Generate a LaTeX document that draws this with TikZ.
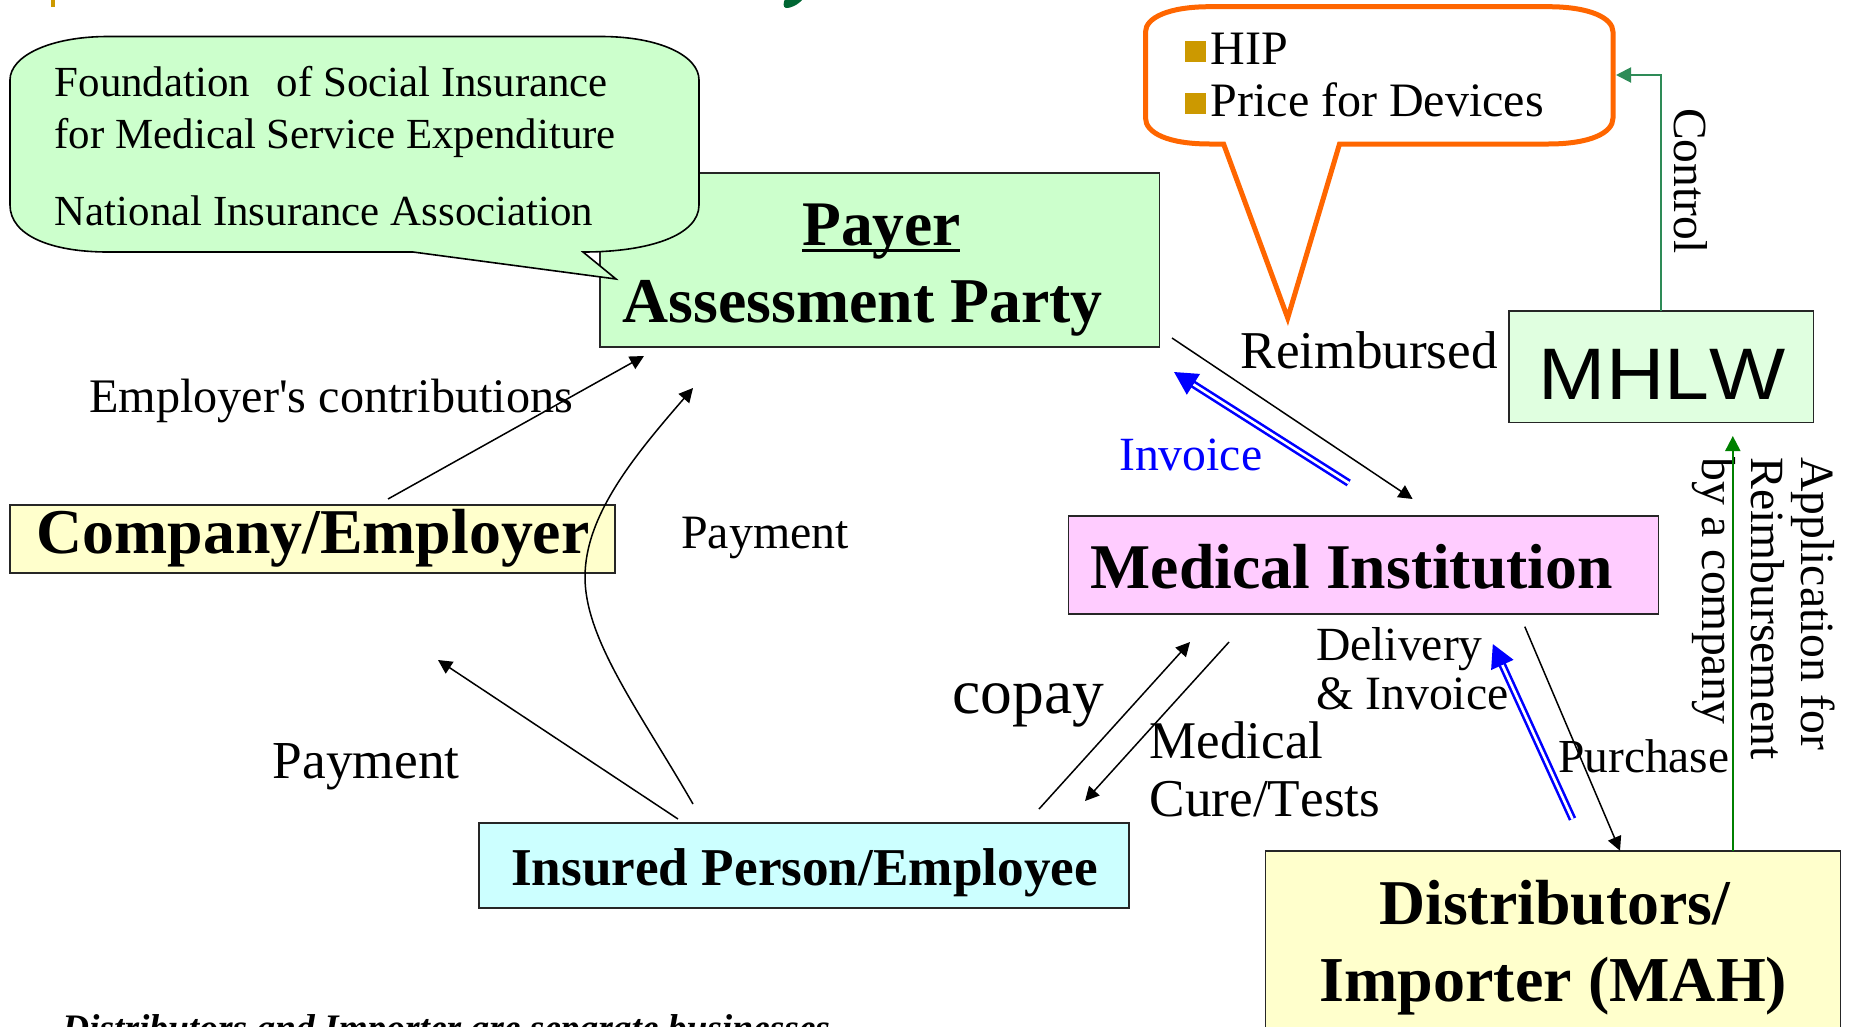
\documentclass[tikz,border=0pt]{standalone}
\usepackage{fontspec}
\setmainfont[Kerning=Off]{Liberation Serif}
\newfontfamily\plainserif[Kerning=Off]{Liberation Serif}
\newfontfamily\arialf[Kerning=Off]{Liberation Sans}
\usetikzlibrary{arrows.meta}
\newcommand{\fs}[1]{\fontsize{#1}{#1}\selectfont}
\definecolor{paygreen}{HTML}{CCFFCC}
\definecolor{mhlwgreen}{HTML}{E0FFE0}
\definecolor{medpink}{HTML}{FFCCFF}
\definecolor{softyellow}{HTML}{FFFFCC}
\definecolor{softcyan}{HTML}{CCFFFF}
\definecolor{calloutorange}{HTML}{FF6600}
\definecolor{bulletgold}{HTML}{CC9900}
\definecolor{ctrlgreen}{HTML}{2E8B57}
\definecolor{appgreen}{HTML}{008000}
\definecolor{titlegreen}{HTML}{006633}
\tikzset{
  box/.style={draw=black!85,line width=1.6pt,inner sep=0pt,outer sep=0pt,anchor=north west},
  lbl/.style={inner sep=0pt,anchor=base west,text=black},
  flow/.style={draw=black,line width=1.5pt,-{Triangle[length=14pt,width=14pt]}},
  dblflow/.style={draw=blue,double=white,double distance=2.6pt,line width=2.6pt,-{Triangle[length=23pt,width=24pt,fill=blue,color=blue]}},
  rot/.style={inner sep=0pt,rotate=-90,anchor=north west,align=left}
}
\begin{document}
\begin{tikzpicture}[x=1pt,y=-1pt]
\useasboundingbox (0,0) rectangle (1851,1026);
\clip (0,0) rectangle (1851,1026);
% cropped fragments
\fill[bulletgold] (51,0) rectangle (55,7);
\fill[titlegreen] (803,-1) .. controls (798,5) and (790,8.5) .. (786,8) .. controls (783,7.5) and (783,3) .. (785,-1) -- cycle;
% boxes
\node[box,fill=paygreen,minimum width=559.5pt,minimum height=174pt] (payer) at (600,173) {};
\node[box,fill=mhlwgreen,minimum width=304.5pt,minimum height=111.5pt] (mhlw) at (1509,311) {};
\node[box,fill=medpink,minimum width=590pt,minimum height=98pt] (med) at (1068.5,516) {};
\node[box,fill=softyellow,minimum width=605pt,minimum height=68pt] (company) at (10,505) {};
\node[box,fill=softcyan,minimum width=650pt,minimum height=85pt] (insured) at (479,823) {};
\node[box,fill=softyellow,minimum width=575pt,minimum height=200pt] (dist) at (1265.6,851) {};
% green callout
\draw[fill=paygreen,draw=black,line width=1.6pt]
  (108,36.5) -- (601,36.5) .. controls (660,36.5) and (699,56) .. (699,80)
  -- (699,205) .. controls (699,235) and (650,252) .. (583,252)
  -- (616,279) -- (413,252) -- (108,252)
  .. controls (50,252) and (10,235) .. (10,205)
  -- (10,80) .. controls (10,56) and (50,36.5) .. (108,36.5) -- cycle;
% orange callout
\draw[fill=white,draw=calloutorange,line width=5pt,miter limit=10]
  (1210,6.7) -- (1548,6.7) .. controls (1590,6.7) and (1613,18) .. (1613,32)
  -- (1613,118) .. controls (1613,133) and (1590,144) .. (1548,144)
  -- (1339.5,144) -- (1287.7,318) -- (1223.6,144) -- (1210,144)
  .. controls (1168,144) and (1145.5,133) .. (1145.5,118)
  -- (1145.5,32) .. controls (1145.5,18) and (1168,6.7) .. (1210,6.7) -- cycle;
\coordinate (orangeport) at (1616,75);
\coordinate (bul1) at (1185,41);
\coordinate (bul2) at (1185,93);
\fill[bulletgold] (bul1) rectangle +(21,21);
\fill[bulletgold] (bul2) rectangle +(21,21);
% box labels
\node[lbl] (tfound) at (54.5,96) {\fs{42.9}Foundation\hspace{.62em}of Social Insurance};
\node[lbl] (tfor) at (54.5,148) {\fs{42.9}for Medical Service Expenditure};
\node[lbl] (tnat) at (54.5,225) {\fs{42.9}National Insurance Association};
\node[lbl] (tpayer) at (802,245) {\fs{63.5}\bfseries\rlap{\rule[-6.5pt]{158pt}{3pt}}Payer};
\node[lbl] (tassess) at (622.5,322) {\fs{63.8}\bfseries Assessment Party};
\node[lbl] (thip) at (1210.5,64) {\fs{48}HIP};
\node[lbl] (tprice) at (1210.5,116) {\fs{48}Price for Devices};
\node[lbl] (treimb) at (1240.5,368) {\fs{53.2}Reimbursed};
\node[lbl,xscale=1.105,transform shape] (tmhlw) at (1538.6,399.5) {\fs{73}\arialf MHLW};
\node[lbl] (tmed) at (1090.5,588) {\fs{63.7}\bfseries Medical Institution};
\node[lbl] (tcomp) at (36.4,553) {\fs{63.8}\bfseries Company/Employer};
\node[lbl] (tins) at (511,885) {\fs{53.2}\bfseries Insured Person/Employee};
\node[lbl] (tdist1) at (1379,924) {\fs{63.8}\bfseries Distributors/};
\node[lbl] (tdist2) at (1319.5,1001) {\fs{64}\bfseries Importer (MAH)};
\node[lbl,text=blue] (tinv) at (1119,470) {\fs{47.7}Invoice};
\node[lbl] (temp) at (89,412) {\fs{48.2}\plainserif Employer's contributions};
\node[lbl] (tpay1) at (681,548) {\fs{47.9}Payment};
\node[lbl] (tpay2) at (272.5,778) {\fs{53.4}Payment};
\node[lbl] (tcopay) at (952.5,713) {\fs{63.5}copay};
\node[lbl] (tcure1) at (1149.5,758) {\fs{53}Medical};
\node[lbl] (tcure2) at (1149.5,816) {\fs{53.2}Cure/Tests};
\node[lbl] (tdel1) at (1316,660) {\fs{47.6}Delivery};
\node[lbl] (tdel2) at (1316,709) {\fs{47.8}\& Invoice};
\node[lbl] (tpurch) at (1558,772.7) {\fs{47.4}Purchase};
\node[rot] (tctrl) at (1708,108) {\fs{47.5}Control};
\node[rot,font=\fontsize{47.7}{49.5}\selectfont] (tapp) at (1835,457) {Application for\\Reimbursement\\by a company};
\node[lbl] (tfoot) at (62,1040) {\fs{37.4}\bfseries\itshape Distributors and Importer are separate businesses};
% connector end points
\coordinate (a1) at (388,499); \coordinate (a1t) at (644,356);
\coordinate (a2) at (693,804); \coordinate (a2t) at (693,388);
\coordinate (a3) at (678,819); \coordinate (a3t) at (438,660);
\coordinate (a4) at (1039,809); \coordinate (a4t) at (1190,642);
\coordinate (a5) at (1229,642); \coordinate (a5t) at (1085,801);
\coordinate (a6) at (1172,338); \coordinate (a6t) at (1412.6,499);
\coordinate (a7) at (1348.7,483); \coordinate (a7t) at (1174,372);
\coordinate (a8) at (1524.8,626.7); \coordinate (a8t) at (1620,850.7);
\coordinate (a9) at (1572.5,819); \coordinate (a9t) at (1492.8,644);
\coordinate (a10) at (1732.8,851); \coordinate (a10t) at (1732.8,436);
\coordinate (a11) at (1661,311); \coordinate (a11c) at (1661,75);
% connectors
\draw[flow] (a1) -- (a1t);
\draw[flow] (a2) .. controls (640,712) and (585,640) .. (585,577) .. controls (585,515) and (635,455) .. (a2t);
\draw[flow] (a3) -- (a3t);
\draw[flow] (a4) -- (a4t);
\draw[flow] (a5) -- (a5t);
\draw[flow] (a6) -- (a6t);
\draw[flow] (a8) -- (a8t);
\draw[dblflow] (a7) -- (a7t);
\draw[dblflow] (a9) -- (a9t);
\draw[draw=appgreen,line width=2pt,-{Triangle[length=15pt,width=15pt]}] (a10) -- (a10t);
\draw[draw=ctrlgreen,line width=2pt,-{Triangle[length=15pt,width=15pt]}] (a11) -- (a11c) -- (orangeport);
\end{tikzpicture}
\end{document}
